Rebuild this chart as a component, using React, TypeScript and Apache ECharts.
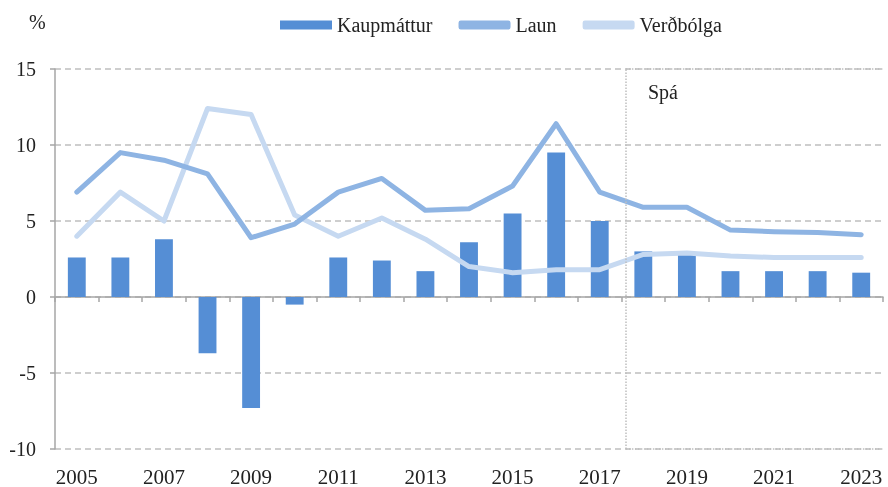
import React, { useEffect, useRef } from "react";
import * as echarts from "echarts";

const years = ["2005","2006","2007","2008","2009","2010","2011","2012","2013","2014","2015","2016","2017","2018","2019","2020","2021","2022","2023"];
const kaupmattur = [2.6, 2.6, 3.8, -3.7, -7.3, -0.5, 2.6, 2.4, 1.7, 3.6, 5.5, 9.5, 5.0, 3.0, 2.8, 1.7, 1.7, 1.7, 1.6];
const laun = [6.9, 9.5, 9.0, 8.1, 3.9, 4.8, 6.9, 7.8, 5.7, 5.8, 7.3, 11.4, 6.9, 5.9, 5.9, 4.4, 4.3, 4.25, 4.1];
const verdbolga = [4.0, 6.9, 5.0, 12.4, 12.0, 5.4, 4.0, 5.2, 3.8, 2.0, 1.6, 1.8, 1.8, 2.8, 2.9, 2.7, 2.6, 2.6, 2.6];
const forecastStart = 13.1;
const forecastEnd = 19;
const yMin = -10;
const yMax = 15;

const FONT = "Liberation Serif";

export default function App() {
  const ref = useRef<HTMLDivElement>(null);
  useEffect(() => {
    if (!ref.current) return;
    const chart = echarts.init(ref.current, null, { renderer: "svg" });
    chart.setOption({
      animation: false,
      textStyle: { fontFamily: FONT },
      grid: { left: 55, right: 5, top: 69, bottom: 38 },
      legend: {
        top: 10,
        left: 275,
        itemWidth: 52,
        itemHeight: 9,
        itemGap: 26,
        textStyle: { fontFamily: FONT, fontSize: 20, color: "#222" },
        data: [
          { name: "Kaupmáttur", icon: "rect" },
          { name: "Laun", icon: "roundRect" },
          { name: "Verðbólga", icon: "roundRect" },
        ],
      },
      graphic: [
        { type: "text", left: 29, top: 12, style: { text: "%", fontFamily: FONT, fontSize: 20, fill: "#222" } },
        { type: "text", left: 648, top: 82, style: { text: "Spá", fontFamily: FONT, fontSize: 20, fill: "#222" } },
      ],
      xAxis: [
        {
          type: "category",
          data: years,
          boundaryGap: true,
          axisLine: { onZero: true, lineStyle: { color: "#A6A6A6", width: 1.5 } },
          axisTick: { show: true, interval: 0, length: 5, lineStyle: { color: "#A6A6A6", width: 1.5 } },
          axisLabel: {
            interval: 1,
            fontSize: 21,
            color: "#222",
            fontFamily: FONT,
            margin: 17,
          },
          position: "bottom",
        },
        { type: "value", min: 0, max: 19, show: false },
      ],
      yAxis: {
        type: "value",
        min: yMin,
        max: yMax,
        interval: 5,
        axisLine: { show: true, lineStyle: { color: "#A6A6A6", width: 1.5 } },
        axisTick: { show: true, length: 5, lineStyle: { color: "#A6A6A6", width: 1.5 } },
        axisLabel: { fontSize: 20, color: "#222", fontFamily: FONT, margin: 19 },
        splitLine: { lineStyle: { color: "#BFBFBF", width: 1.5, type: [6, 4] } },
      },
      series: [
        {
          name: "Kaupmáttur",
          type: "bar",
          data: kaupmattur,
          barWidth: "41%",
          itemStyle: { color: "#558ED5" },
          z: 2,
        },
        {
          name: "Laun",
          type: "line",
          data: laun,
          symbol: "none",
          lineStyle: { color: "#8EB4E3", width: 5, cap: "round", join: "round" },
          itemStyle: { color: "#8EB4E3" },
          z: 4,
        },
        {
          name: "Verðbólga",
          type: "line",
          data: verdbolga,
          symbol: "none",
          lineStyle: { color: "#C6D9F1", width: 5, cap: "round", join: "round" },
          itemStyle: { color: "#C6D9F1" },
          z: 3,
        },
        {
          name: "forecast",
          type: "line",
          xAxisIndex: 1,
          data: [],
          silent: true,
          markLine: {
            silent: true,
            symbol: ["none", "none"],
            label: { show: false },
            lineStyle: { color: "#BFBFBF", width: 1.5, type: "dotted" },
            data: [
              [{ coord: [forecastStart, yMin] }, { coord: [forecastStart, yMax] }],
              [{ coord: [forecastStart, yMax] }, { coord: [forecastEnd, yMax] }],
              [{ coord: [forecastStart, yMin] }, { coord: [forecastEnd, yMin] }],
            ],
          },
        },
      ],
    });
    return () => chart.dispose();
  }, []);
  return <div ref={ref} style={{ position: "fixed", left: 0, top: 0, width: 888, height: 487 }} />;
}
